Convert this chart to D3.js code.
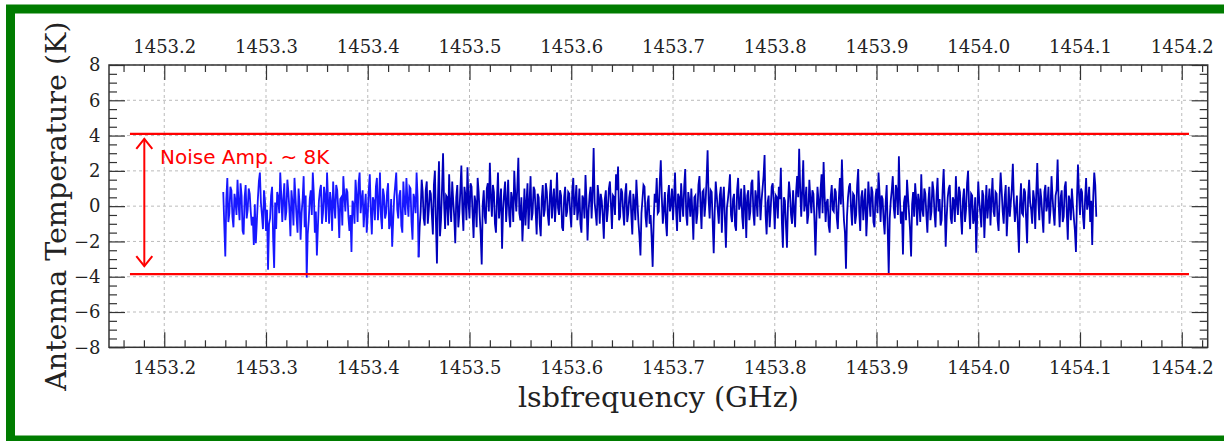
<!DOCTYPE html>
<html>
<head>
<meta charset="utf-8">
<script src="https://cdn.jsdelivr.net/npm/d3@7"></script>
<style>
  html, body { margin: 0; padding: 0; background: #fff; }
  svg { display: block; }
  .tick text { font-family: "DejaVu Serif", serif; font-size: 18px; fill: #222; }
  .tick line { stroke: #333; stroke-width: 1.2; }
  .grid line { stroke: #bbb; stroke-width: 1; stroke-dasharray: 3,3; }
</style>
</head>
<body>
<div id="chart"></div>
<script>
var svgWidth = 1224;
var svgHeight = 441;

// plot box in pixels
var plotLeft = 109, plotRight = 1207.7, plotTop = 65, plotBottom = 347.3;

// spectrum channels: first channel and channel width (GHz)
var chanStart = 1453.258;
var chanWidth = 0.001;
// channels below this index are drawn in the lighter blue
var splitChan = 193;

// antenna temperature per channel (K)
var temps = [
  0.8, -1.1, -2.85, 0.4, 1.6, -0.9, -0.4, 1.1, 0.9, -0.6, -1.2, 0.7, 0.3, -0.5, 1.5, 0.2, -0.8, 1.3, 0.6, -1.4,
  -1.6, 0.5, 1.2, -0.7, -0.2, 1.0, 0.7, -0.3, -1.1, -0.6, -2.2, 0.1, -2.1, -0.9, 0.4, 1.4, 1.9, 0.2, -0.5, -1.3,
  0.9, 0.3, -1.4, -0.2, -3.6, -1.0, -0.7, 0.6, 1.1, -1.8, -3.5, 0.2, -1.3, 0.8, 0.5, -0.4, 1.9, 0.6, -0.9, 0.4,
  1.3, -0.8, -0.3, 1.5, 0.8, -0.2, -1.7, 0.9, 0.2, -1.1, 1.6, 0.5, -0.6, -1.5, 1.0, 0.1, -1.9, -0.4, 0.4, 1.7,
  -1.2, 0.6, -4.05, -1.6, -0.8, 0.4, 0.9, -0.5, 1.9, 0.7, -1.5, -0.3, -2.8, -1.2, 0.3, 0.9, 1.2, -1.0, -0.4, 1.1,
  0.6, -0.9, 1.9, 0.3, -1.0, 0.8, 0.2, -1.4, 1.4, 0.1, -0.7, 1.2, 0.9, -0.2, -1.8, 0.4, 0.5, -1.1, 1.7, 0.6,
  -0.3, 1.0, 0.8, -0.6, -1.4, -0.5, -2.6, 0.3, 0.1, -1.0, 1.5, 0.6, -0.9, 1.3, 1.9, -0.4, 0.4, 0.9, -1.2, -0.1,
  0.7, -1.5, -0.5, 0.9, 1.8, -0.3, -1.6, 0.5, 0.3, -0.8, 1.1, 1.6, -0.8, 0.2, 1.9, -0.6, -1.3, 1.0, 0.6, -0.7,
  -0.4, 0.8, 1.3, -1.3, -1.0, 0.4, -2.3, -0.8, 0.5, 1.2, 1.9, -0.2, -0.7, 0.6, 0.9, -1.1, -1.5, 1.4, 0.2, -0.5,
  1.6, 0.3, -0.6, 1.1, 1.0, -0.9, -1.9, 0.7, 0.4, -0.4, 1.9, 0.5, -2.9, -1.2, -0.3, 1.5, 0.8, -0.7, -1.1, 0.9,
  1.4, -1.0, -0.2, 0.9, 0.7, -0.5, -1.6, 1.2, 2.0, -0.9, -3.25, 0.4, 2.55, -1.7, -0.8, 1.0, 3.0, 0.2, -1.3, 0.6,
  0.5, -1.1, 1.8, 0.1, -0.9, 1.4, 0.3, -0.6, -2.1, 0.5, 1.2, -1.2, -0.4, 0.9, 2.3, -0.2, -1.4, 1.1, 0.6, -0.8,
  2.2, 0.3, -0.7, 1.3, 1.1, -0.4, -1.8, 0.6, 0.2, -1.2, 1.6, 0.8, -0.5, -1.6, -3.3, 0.1, 0.9, -0.6, -1.0, 1.0,
  1.3, -0.3, 2.46, 0.5, -0.6, 1.2, 0.8, -1.0, -1.5, 0.4, 1.9, -0.7, 0.1, 1.0, -2.42, -0.2, 0.7, 1.4, -0.9, 0.2,
  1.5, -0.5, -1.2, 0.8, 0.4, -0.9, 2.0, 0.6, -0.3, 1.1, 2.74, -0.4, -0.8, 0.5, -2.0, -0.6, 1.0, -1.1, 0.2, 1.3,
  -1.3, 0.2, 1.7, -0.8, -0.4, 1.1, 0.9, -0.3, -1.6, 0.7, 0.5, -1.0, -1.7, 0.4, 1.2, -0.6, -0.2, 1.3, 0.8, -0.5,
  -1.1, 0.6, 1.5, -0.7, 0.3, 1.0, -0.9, 0.2, 1.9, -0.1, -0.5, 0.9, 0.6, -1.2, -1.4, 0.5, 1.1, -0.6, -0.3, 0.8,
  0.7, -0.4, -1.2, 0.9, 1.6, -0.5, 0.2, 1.2, -0.8, -0.2, 1.0, -1.0, -1.5, 0.6, 0.4, -0.7, 1.76, 0.3, -1.95, -0.3,
  0.6, 1.1, -0.7, 0.8, 3.3, 0.2, -0.4, -1.1, 1.2, 0.5, -1.0, 0.7, 0.3, -0.6, -1.85, 0.4, 0.9, -0.9, -0.2, 1.0,
  1.4, 0.1, -1.3, 0.6, 0.5, -0.5, 1.8, 0.9, 2.24, -0.8, -0.6, 1.0, 0.8, -0.3, -1.1, 0.7, 1.3, -0.9, -0.4, 0.5,
  0.9, -0.5, -1.6, 0.7, 0.2, -0.8, 1.5, 0.3, -0.9, -1.7, -2.8, -0.4, 0.4, 1.2, 1.1, -0.6, -1.2, 0.2, 0.6, -1.0,
  -0.5, -1.8, -3.44, -0.9, 0.7, 0.2, 1.6, -0.4, -0.3, 1.4, 2.6, 0.5, -1.0, -0.2, 0.8, -0.9, -1.7, 0.6, 1.2, -0.3,
  0.1, 1.0, -0.8, 0.4, 1.9, -0.2, -1.4, 0.7, 0.5, -0.9, 1.3, 0.2, -0.6, 1.1, 2.1, -0.5, -1.1, 0.8, 0.3, -0.6,
  1.0, -0.3, -1.9, 0.5, 0.6, -1.0, -0.4, 1.2, 1.7, 0.1, -1.3, 0.8, 0.9, -0.6, 0.2, 1.5, 3.17, 0.4, -0.7, 0.9,
  0.8, -0.9, -2.67, -0.3, 1.4, 0.6, -0.2, -1.0, 0.6, 1.1, -1.5, 0.3, 1.1, -0.7, -2.35, -0.1, 0.4, 1.0, 1.8, -0.5,
  -0.9, 0.4, 0.7, -1.1, -1.4, 0.9, 1.6, -0.2, 0.1, 1.0, -0.6, -1.3, 1.2, 0.3, -1.8, 0.6, 0.9, -0.8, -0.3, 1.3,
  1.5, -0.4, -1.1, 0.9, 0.4, -0.6, 2.0, 0.8, -0.8, 0.3, 1.0, 1.7, 2.9, -0.5, -1.6, 0.2, 0.6, -1.2, -0.2, 1.1,
  1.3, 0.2, -1.3, 0.6, 0.5, -0.7, 1.1, 0.4, 2.17, -0.9, -2.35, 0.5, 0.3, -1.1, -2.35, 0.1, 1.4, 0.7, -0.5, -1.0,
  0.9, -0.2, -1.2, 0.8, 1.7, 0.5, 3.25, 1.0, -0.6, 0.9, 2.6, -0.3, 0.2, 1.1, -1.0, -0.5, 1.5, 0.4, -0.4, 0.9,
  0.7, -0.8, -2.8, -0.6, 1.1, 0.3, -0.7, 0.9, 1.8, -0.4, 2.5, 0.6, -0.9, 0.2, 0.4, -1.1, -1.5, 0.5, 1.2, -0.2,
  -0.3, 1.0, 0.8, -0.7, -1.3, 0.4, 1.6, 0.1, 2.64, 0.6, -0.8, -1.5, -3.55, -0.6, 0.5, 1.1, 1.3, -0.2, -1.1, 0.7,
  0.6, -1.0, -0.5, 1.2, 2.1, -0.3, -1.4, 0.5, 0.9, -0.8, 0.2, 1.0, -1.7, -0.4, 1.4, 0.3, -0.6, 1.1, 0.8, -0.9,
  -1.2, 0.5, 1.0, -0.4, 1.9, 0.7, -0.9, 0.6, 0.4, -0.8, -1.6, 0.2, 1.2, -1.3, -3.85, -0.7, 0.3, 0.9, 1.7, -0.1,
  -0.7, 1.2, 0.9, -0.5, 2.83, 0.4, -1.0, -0.3, -2.74, 0.2, 0.6, -0.8, 1.5, 0.5, -0.4, -1.4, -2.85, 0.1, 0.8, -0.6,
  1.3, 0.4, -1.1, 0.7, 0.2, -0.9, 1.8, -0.2, -0.6, 1.0, 0.7, -0.5, -1.5, 0.3, 1.1, -0.8, -0.3, 1.4, 0.9, -0.4,
  -1.2, 0.6, 1.6, -0.3, 0.4, -1.1, -0.8, 0.9, 2.1, 0.2, -2.3, -0.6, 0.5, 1.0, 1.2, -0.7, -1.0, 0.5, 0.3, -0.9,
  1.7, 0.2, -0.5, 1.1, 0.8, -0.6, -1.6, 0.4, 1.0, -0.9, -0.2, 1.3, 2.0, -0.1, -1.3, 0.7, 0.6, -1.0, -0.7, 0.5,
  -2.64, -0.5, 1.4, 0.3, -0.4, -1.2, 0.9, 0.6, -1.8, -0.2, 1.2, -0.7, 0.1, 1.0, -1.1, 0.4, 1.6, -0.3, -0.6, 0.8,
  0.7, -0.8, -1.4, 0.5, 1.9, 0.9, -0.3, -1.0, 0.5, 1.2, -1.7, -0.4, 1.1, -0.6, 0.2, 1.0, 2.4, 0.3, -0.9, -0.2,
  0.6, -1.2, -2.64, 0.1, 1.3, -0.4, -0.5, 1.0, 0.8, -0.7, -2.1, 0.5, 1.5, 0.2, -0.2, -1.0, 0.9, 0.4, -1.3, 0.7,
  2.45, 0.3, -0.8, 1.0, 0.4, -0.6, -1.5, 0.8, 1.2, -0.3, 0.1, 1.1, -1.0, -0.2, 1.7, 0.5, -0.4, -1.1, 0.6, 0.9,
  2.64, 0.2, -1.2, 0.5, 0.9, -0.9, -0.6, 1.1, 1.4, -0.4, -1.9, 0.6, 0.3, -0.8, 1.0, 0.1, -0.7, -1.4, -2.6, 0.4,
  2.36, 0.7, -0.5, 1.0, 0.8, -0.6, -1.3, 0.4, 1.6, -0.2, 0.2, 1.1, -0.9, 0.3, -2.2, 0.5, 1.9, 1.2, -0.6
];

// axis ticks
var xMajor = [1453.2, 1453.3, 1453.4, 1453.5, 1453.6, 1453.7, 1453.8, 1453.9, 1454.0, 1454.1, 1454.2];
var xMinor = [1453.16, 1453.18, 1453.22, 1453.24, 1453.26, 1453.28, 1453.32, 1453.34, 1453.36, 1453.38,
              1453.42, 1453.44, 1453.46, 1453.48, 1453.52, 1453.54, 1453.56, 1453.58,
              1453.62, 1453.64, 1453.66, 1453.68, 1453.72, 1453.74, 1453.76, 1453.78,
              1453.82, 1453.84, 1453.86, 1453.88, 1453.92, 1453.94, 1453.96, 1453.98,
              1454.02, 1454.04, 1454.06, 1454.08, 1454.12, 1454.14, 1454.16, 1454.18, 1454.22];
var yMajor = [-8, -6, -4, -2, 0, 2, 4, 6, 8];
var yMinor = [-7.5, -7, -6.5, -5.5, -5, -4.5, -3.5, -3, -2.5, -1.5, -1, -0.5,
              0.5, 1, 1.5, 2.5, 3, 3.5, 4.5, 5, 5.5, 6.5, 7, 7.5];

// noise annotation
var noiseLevels = [4.1, -3.85];
var noiseSpan = [1453.1663, 1454.2071];
var arrowFreq = 1453.1804;
var arrowEnds = [3.82, -3.4];
var noiseLabel = "Noise Amp. ~ 8K";

var svg = d3.select("#chart")
  .append("svg")
  .attr("width", svgWidth)
  .attr("height", svgHeight);

svg.append("rect")
  .attr("width", svgWidth)
  .attr("height", svgHeight)
  .attr("fill", "#fff");

// green frame
svg.append("rect")
  .attr("x", 10.5)
  .attr("y", 9)
  .attr("width", 1240)
  .attr("height", 431)
  .attr("fill", "none")
  .attr("stroke", "#007c00")
  .attr("stroke-width", 9);

var x = d3.scaleLinear()
  .domain([1453.1457, 1454.2255])
  .range([plotLeft, plotRight]);

var y = d3.scaleLinear()
  .domain([-8, 8])
  .range([plotBottom, plotTop]);

// grid
svg.append("g")
  .attr("class", "grid")
  .selectAll("line")
  .data(xMajor)
  .enter()
  .append("line")
  .attr("x1", d => x(d)).attr("x2", d => x(d))
  .attr("y1", plotTop).attr("y2", plotBottom);

svg.append("g")
  .attr("class", "grid")
  .selectAll("line")
  .data(yMajor)
  .enter()
  .append("line")
  .attr("x1", plotLeft).attr("x2", plotRight)
  .attr("y1", d => y(d)).attr("y2", d => y(d));

// spectrum
var points = temps.map((t, i) => [chanStart + i * chanWidth, t]);

var line = d3.line()
  .x(d => x(d[0]))
  .y(d => y(d[1]));

svg.append("path")
  .datum(points.slice(splitChan - 1))
  .attr("d", line)
  .attr("fill", "none")
  .attr("stroke", "#0000bb")
  .attr("stroke-width", 1.8);

svg.append("path")
  .datum(points.slice(0, splitChan))
  .attr("d", line)
  .attr("fill", "none")
  .attr("stroke", "#1717ff")
  .attr("stroke-width", 1.8);

// red noise band
svg.append("g")
  .selectAll("line")
  .data(noiseLevels)
  .enter()
  .append("line")
  .attr("x1", x(noiseSpan[0]))
  .attr("x2", x(noiseSpan[1]))
  .attr("y1", d => y(d))
  .attr("y2", d => y(d))
  .attr("stroke", "#ff0000")
  .attr("stroke-width", 2.2);

var ax = x(arrowFreq);
svg.append("line")
  .attr("x1", ax).attr("x2", ax)
  .attr("y1", y(arrowEnds[0])).attr("y2", y(arrowEnds[1]))
  .attr("stroke", "#ff0000")
  .attr("stroke-width", 2);

svg.append("path")
  .attr("d", `M${ax - 8},${y(arrowEnds[0]) + 10}L${ax},${y(arrowEnds[0])}L${ax + 8},${y(arrowEnds[0]) + 10}` +
             `M${ax - 8},${y(arrowEnds[1]) - 10}L${ax},${y(arrowEnds[1])}L${ax + 8},${y(arrowEnds[1]) - 10}`)
  .attr("fill", "none")
  .attr("stroke", "#ff0000")
  .attr("stroke-width", 2);

svg.append("text")
  .attr("x", 160)
  .attr("y", 164)
  .attr("font-family", "DejaVu Sans, sans-serif")
  .attr("font-size", "20px")
  .attr("fill", "#ff0000")
  .text(noiseLabel);

// axes: major ticks with labels, minor ticks without
svg.append("g")
  .attr("transform", `translate(0,${plotBottom})`)
  .call(d3.axisBottom(x).tickValues(xMajor).tickFormat(d3.format(".1f"))
    .tickSizeInner(-15).tickSizeOuter(0).tickPadding(14));

svg.append("g")
  .attr("transform", `translate(0,${plotBottom})`)
  .call(d3.axisBottom(x).tickValues(xMinor).tickFormat("").tickSizeInner(-7).tickSizeOuter(0));

svg.append("g")
  .attr("transform", `translate(0,${plotTop})`)
  .call(d3.axisTop(x).tickValues(xMajor).tickFormat(d3.format(".1f"))
    .tickSizeInner(-15).tickSizeOuter(0).tickPadding(12));

svg.append("g")
  .attr("transform", `translate(0,${plotTop})`)
  .call(d3.axisTop(x).tickValues(xMinor).tickFormat("").tickSizeInner(-7).tickSizeOuter(0));

svg.append("g")
  .attr("transform", `translate(${plotLeft},0)`)
  .call(d3.axisLeft(y).tickValues(yMajor).tickFormat(d3.format("d"))
    .tickSizeInner(-16).tickSizeOuter(0).tickPadding(8.5));

svg.append("g")
  .attr("transform", `translate(${plotLeft},0)`)
  .call(d3.axisLeft(y).tickValues(yMinor).tickFormat("").tickSizeInner(-8).tickSizeOuter(0));

svg.append("g")
  .attr("transform", `translate(${plotRight},0)`)
  .call(d3.axisRight(y).tickValues(yMajor).tickFormat("").tickSizeInner(-16).tickSizeOuter(0));

svg.append("g")
  .attr("transform", `translate(${plotRight},0)`)
  .call(d3.axisRight(y).tickValues(yMinor).tickFormat("").tickSizeInner(-8).tickSizeOuter(0));

svg.selectAll(".domain").remove();

// plot frame
svg.append("rect")
  .attr("x", plotLeft)
  .attr("y", plotTop)
  .attr("width", plotRight - plotLeft)
  .attr("height", plotBottom - plotTop)
  .attr("fill", "none")
  .attr("stroke", "#333")
  .attr("stroke-width", 1.5);

// axis titles
svg.append("text")
  .attr("x", (plotLeft + plotRight) / 2)
  .attr("y", 407)
  .attr("text-anchor", "middle")
  .attr("font-family", "DejaVu Serif, serif")
  .attr("font-size", "28.5px")
  .attr("fill", "#222")
  .text("lsbfrequency (GHz)");

svg.append("text")
  .attr("transform", `translate(66,${(plotTop + plotBottom) / 2}) rotate(-90)`)
  .attr("text-anchor", "middle")
  .attr("font-family", "DejaVu Serif, serif")
  .attr("font-size", "28.5px")
  .attr("fill", "#222")
  .text("Antenna Temperature (K)");
</script>
</body>
</html>
